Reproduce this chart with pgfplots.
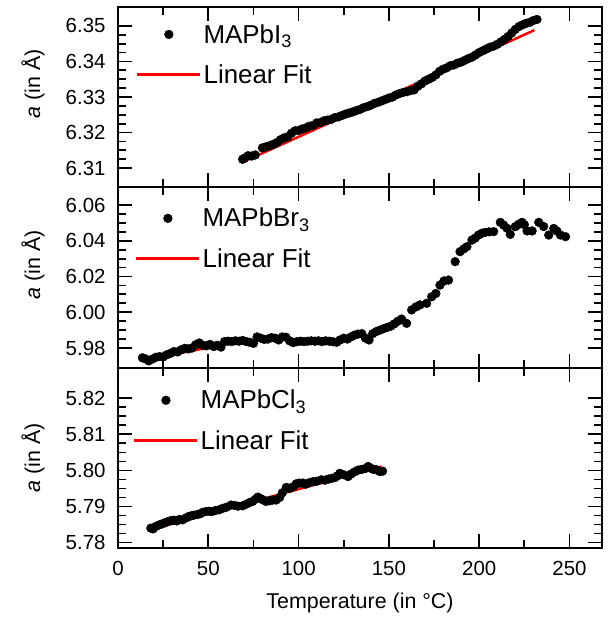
\documentclass[border=0pt]{standalone}
\usepackage{fontspec}
\setmainfont{Liberation Sans}
\usepackage{pgfplots}
\pgfplotsset{compat=1.18}
\definecolor{fitred}{RGB}{255,0,0}
\begin{document}
\begin{tikzpicture}
\useasboundingbox (-118bp,-75bp) rectangle (492bp,548bp);
\pgfplotsset{
  panel/.style={
    scale only axis, width=484bp,
    xmin=0, xmax=268,
    xtick={0,50,...,250}, minor x tick num=1,
    minor y tick num=3,
    major tick length=14bp, minor tick length=8bp,
    tick style={line width=1.8bp, black},
    axis line style={line width=2.2bp},
    tick label style={font=\fontsize{20.5}{22}\selectfont},
    label style={font=\fontsize{21.5}{23}\selectfont},
    xticklabel style={yshift=-10bp},
    yticklabel style={xshift=-9bp},
    y tick label style={/pgf/number format/fixed, /pgf/number format/fixed zerofill, /pgf/number format/precision=2},
    /pgf/number format/assume math mode=true,
    ylabel={\textit{a} (in Å)},
    legend style={draw=none, fill=none, font=\fontsize{26}{28}\selectfont, anchor=north west,
      row sep=16bp, inner sep=0pt},
    legend cell align=left,
  },
  dots/.style={only marks, mark=*, mark size=4.4bp, black, line width=0.4bp,
    legend image code/.code={\path[draw=none] (0bp,0bp) -- (63bp,0bp); \fill[black] (31.5bp,0bp) circle (4.4bp);}},
  fit/.style={no marks, fitred, line width=2.5bp,
    legend image code/.code={\draw[fitred, line width=2.5bp] (0bp,0bp) -- (63bp,0bp);}},
}
% ---------- top panel: MAPbI3 ----------
\begin{axis}[panel, at={(0,361bp)}, anchor=south west, height=180bp,
  ymin=6.3047, ymax=6.3553, ytick={6.31,6.32,6.33,6.34,6.35},
  xticklabels={},
  ylabel style={at={(axis description cs:-0.1756,0.572)}, anchor=center, rotate=0},
  legend style={at={(axis description cs:0.037,0.916)}}]
\addplot[dots] coordinates {
(69,6.3125) (70,6.3128) (72,6.3135) (74,6.3134) (76,6.3137) (80,6.3157) (82,6.3160) (84,6.3163)
(86,6.3167) (88,6.3172) (90,6.3180) (92,6.3185) (94,6.3188) (96,6.3198) (98,6.3205) (100,6.3206)
(102,6.3210) (104,6.3213) (106,6.3218) (108,6.3220) (110,6.3227) (112,6.3228) (114,6.3233)
(116,6.3235) (118,6.3237) (120,6.3242) (122,6.3244) (124,6.3248) (126,6.3252) (128,6.3255)
(130,6.3258) (132,6.3262) (134,6.3265) (136,6.3270) (138,6.3273) (140,6.3277) (142,6.3282)
(144,6.3285) (146,6.3289) (148,6.3293) (150,6.3297) (152,6.3300) (154,6.3306) (156,6.3310)
(158,6.3313) (160,6.3315) (162,6.3318) (164,6.3320) (166,6.3330) (168,6.3337) (170,6.3345)
(172,6.3350) (174,6.3355) (176,6.3362) (178,6.3372) (180,6.3378) (182,6.3382) (184,6.3388)
(186,6.3390) (188,6.3395) (190,6.3398) (192,6.3403) (194,6.3408) (196,6.3412) (198,6.3418)
(200,6.3425) (202,6.3430) (204,6.3435) (206,6.3440) (208,6.3443) (210,6.3448) (212,6.3455)
(214,6.3462) (216,6.3470) (218,6.3480) (220,6.3490) (222,6.3498) (224,6.3503) (226,6.3507)
(228,6.3510) (230,6.3515) (232,6.3518)
};
\addlegendentry{MAPbI\textsubscript{3}}
\addplot[fit] coordinates {(68.2,6.3115) (230.6,6.3488)};
\addlegendentry{Linear Fit}
\end{axis}
% ---------- middle panel: MAPbBr3 ----------
\begin{axis}[panel, at={(0,180bp)}, anchor=south west, height=181bp,
  ymin=5.9688, ymax=6.0701, ytick={5.98,6.00,6.02,6.04,6.06},
  xticklabels={},
  ylabel style={at={(axis description cs:-0.1756,0.569)}, anchor=center, rotate=0},
  legend style={at={(axis description cs:0.035,0.895)}}]
\addplot[dots] coordinates {
(13.5,5.9745) (15,5.9740) (17,5.9728) (19,5.9738) (21,5.9748) (23,5.9752) (25,5.9750)
(27,5.9762) (29,5.9770) (31,5.9780) (33,5.9778) (35,5.9790) (37,5.9798) (39,5.9795)
(41,5.9800) (43,5.9818) (45,5.9828) (47,5.9815) (49,5.9812) (51,5.9820) (53,5.9808)
(55,5.9815) (57,5.9805) (59,5.9836) (61,5.9838) (63,5.9836) (65,5.9840) (67,5.9838)
(69,5.9842) (71,5.9836) (73,5.9832) (75,5.9826) (77,5.9862) (79,5.9855) (81,5.9848)
(83,5.9850) (85,5.9858) (87,5.9855) (89,5.9845) (91,5.9862) (93,5.9860) (95,5.9840)
(97,5.9830) (99,5.9835) (101,5.9838) (103,5.9836) (105,5.9838) (107,5.9840) (109,5.9838)
(111,5.9840) (113,5.9836) (115,5.9840) (117,5.9838) (119,5.9835) (121,5.9832) (123,5.9845)
(125,5.9855) (127,5.9850) (129,5.9862) (131,5.9872) (133,5.9878) (135,5.9880) (137,5.9855)
(139,5.9845) (141,5.9880) (143,5.9892) (145,5.9900) (147,5.9908) (149,5.9915) (151,5.9922)
(153,5.9935) (155,5.9950) (157,5.9962) (159.8,5.9938) (162.6,6.0013) (165,6.0030)
(167.2,6.0041) (170.9,6.0050) (173.7,6.0087) (176,6.0105) (178.3,6.0152) (180.5,6.0175)
(183,6.0180) (186.7,6.0283) (189.4,6.0339) (191.5,6.0355) (193.2,6.0367) (196,6.0404)
(197.8,6.0415) (199.6,6.0432) (201.5,6.0442) (203.3,6.0447) (205.5,6.0450) (208,6.0451)
(211.7,6.0503) (213.5,6.0488) (215.4,6.0470) (217.2,6.0436) (220,6.0479) (221.8,6.0492)
(223.7,6.0503) (225,6.0490) (226.5,6.0455) (229.3,6.0455) (233,6.0503) (235.7,6.0480)
(238.5,6.0432) (241.3,6.0469) (243,6.0455) (245,6.0432) (247.8,6.0423)
};
\addlegendentry{MAPbBr\textsubscript{3}}
\addplot[fit] coordinates {(13.5,5.9729) (59.8,5.9822)};
\addlegendentry{Linear Fit}
\end{axis}
% ---------- bottom panel: MAPbCl3 ----------
\begin{axis}[panel, at={(0,0)}, anchor=south west, height=180bp,
  ymin=5.7785, ymax=5.8284, ytick={5.78,5.79,5.80,5.81,5.82},
  xlabel={Temperature (in °C)},
  xlabel style={at={(axis description cs:0.5,-0.3056)}, anchor=center},
  ylabel style={at={(axis description cs:-0.1756,0.5)}, anchor=center, rotate=0},
  legend style={at={(axis description cs:0.031,0.889)}}]
\addplot[dots] coordinates {
(18.2,5.7840) (19.5,5.7838) (21,5.7845) (22.8,5.7849) (24.5,5.7852) (26,5.7855) (27.5,5.7858)
(29.3,5.7861) (31,5.7862) (32.5,5.7860) (34,5.7864) (35.7,5.7863) (37.5,5.7868) (39,5.7872)
(40.4,5.7874) (42,5.7876) (44,5.7878) (45.5,5.7880) (47,5.7884) (48.7,5.7886) (50.5,5.7887)
(52,5.7886) (54,5.7889) (56.1,5.7891) (58,5.7895) (60,5.7898) (62.6,5.7904) (64.5,5.7903)
(66.5,5.7901) (69,5.7902) (70.8,5.7906) (72.8,5.7911) (74.5,5.7914) (76,5.7920) (77.4,5.7926)
(79,5.7922) (80.5,5.7918) (82,5.7914) (84,5.7916) (85.8,5.7918) (87.6,5.7918) (89.5,5.7925)
(91,5.7938) (93.2,5.7953) (95,5.7950) (97,5.7955) (98.7,5.7963) (100.5,5.7965) (102.4,5.7965)
(104,5.7962) (106,5.7966) (108,5.7969) (110,5.7970) (112.6,5.7974) (114.5,5.7973)
(116.5,5.7976) (118.2,5.7978) (120,5.7980) (121.5,5.7985) (122.8,5.7992) (125,5.7988)
(127.4,5.7983) (129,5.7990) (131,5.7996) (133,5.8001) (135,5.8003) (136.8,5.8005)
(138.5,5.8011) (140,5.8006) (141.3,5.8003) (143,5.8002) (145,5.7997) (146.5,5.7998)
};
\addlegendentry{MAPbCl\textsubscript{3}}
\addplot[fit] coordinates {(18.2,5.7836) (145.9,5.8011)};
\addlegendentry{Linear Fit}
\end{axis}
\end{tikzpicture}
\end{document}
